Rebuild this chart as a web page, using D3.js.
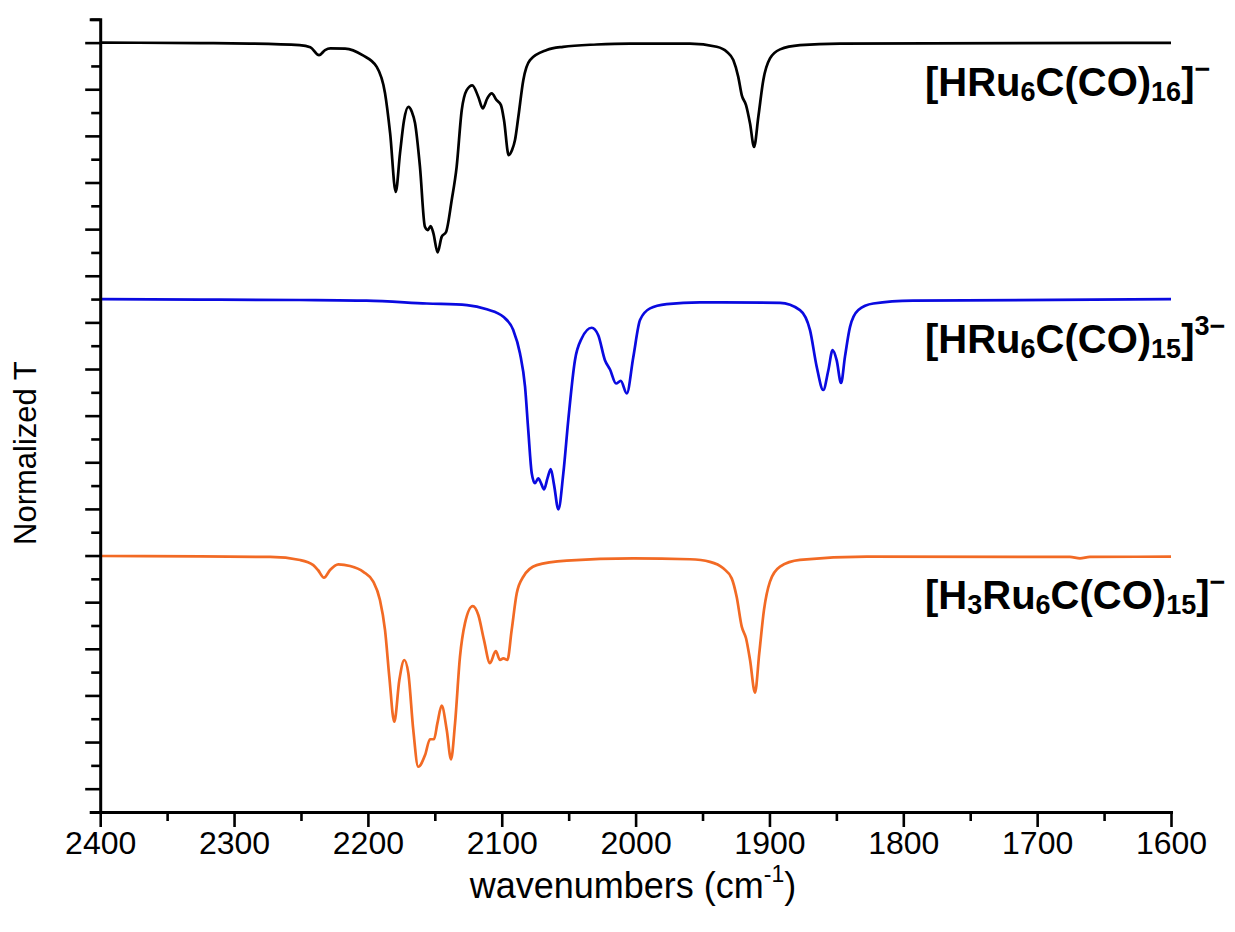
<!DOCTYPE html>
<html><head><meta charset="utf-8">
<script src="https://cdn.jsdelivr.net/npm/d3@7"></script>
<style>
body{margin:0;background:#fff}
svg{display:block}
text{font-family:"Liberation Sans",Arial,Helvetica,sans-serif}
</style>
</head><body>
<svg id="chart" width="1235" height="932"></svg>
<script>
// ---- data: [wavenumber (cm-1), normalized T (offset units)] ----
const spectrumHRu6C_CO16 = [
 [2400,33.00],[2325,32.98],[2288,32.96],[2251,32.89],[2243,32.80],[2236.5,32.46],[2232,32.68],
 [2228,32.75],[2217,32.74],[2204,32.46],[2193.4,31.96],[2187.2,30.83],[2183.4,29.12],[2179.2,26.60],
 [2176,28.26],[2173,29.67],[2169.8,30.24],[2167.1,30.02],[2164.8,29.55],[2161.1,27.67],[2157.4,25.10],
 [2155.3,24.96],[2153.1,25.13],[2151.1,24.83],[2147.9,24.00],[2144.9,24.67],[2141.6,24.88],[2137.4,26.24],
 [2133.7,27.67],[2129.9,30.10],[2126.2,30.96],[2122,31.17],[2117.5,30.67],[2114.2,30.18],[2110.8,30.61],
 [2107.5,30.82],[2103.8,30.53],[2100.6,30.32],[2098.3,29.67],[2094.8,28.17],[2092.3,28.39],[2090.1,28.82],
 [2087.6,29.82],[2083.9,31.39],[2078.9,32.25],[2066.4,32.68],[2054.2,32.82],[2029.1,32.92],[2004.2,32.96],
 [1959.4,32.96],[1939.4,32.82],[1931.9,32.61],[1927,32.25],[1923.3,31.53],[1920.7,30.75],[1917.5,30.32],
 [1914.5,29.53],[1911.5,28.53],[1908.3,29.82],[1904.6,31.39],[1899.6,32.32],[1892.1,32.71],[1877.2,32.89],
 [1847.3,32.96],[1600,32.99]
];
const spectrumHRu6C_CO15 = [
 [2400,22.00],[2325,21.98],[2251,21.96],[2201,21.93],[2156,21.81],[2126,21.74],[2111.2,21.56],
 [2098.8,21.24],[2091.4,20.67],[2086.4,19.68],[2082.6,18.24],[2080.2,16.38],[2077.6,14.53],[2075.2,14.10],
 [2072.7,14.31],[2070.7,14.11],[2068.4,13.84],[2065.8,14.32],[2063.4,14.71],[2060.9,14.02],[2057.7,12.98],
 [2054,14.52],[2050.3,16.81],[2045.3,19.38],[2040.3,20.31],[2032.8,20.77],[2027.9,20.45],[2022.9,19.38],
 [2019.1,18.98],[2014.6,18.38],[2011.1,18.49],[2006.6,17.95],[2001.7,19.52],[1996.7,21.10],[1989.2,21.60],
 [1976.8,21.78],[1951.9,21.86],[1892.1,21.84],[1877.2,21.53],[1869.7,20.67],[1864.7,19.10],[1859.8,18.10],
 [1856,18.95],[1852.8,19.81],[1849.8,19.38],[1846.5,18.40],[1843.6,19.52],[1839.8,20.81],[1833.6,21.53],
 [1822.4,21.81],[1792.8,21.93],[1600,22.00]
];
const spectrumH3Ru6C_CO15 = [
 [2400,10.98],[2325,10.96],[2273,10.94],[2250.7,10.81],[2240.8,10.59],[2237.3,10.38],[2232.8,10.05],
 [2228.3,10.38],[2222.1,10.62],[2213.4,10.55],[2203.4,10.30],[2196,9.88],[2191,9.09],[2187.2,7.80],
 [2184,5.80],[2180.3,3.87],[2176.5,5.66],[2172.8,6.52],[2169.8,5.95],[2166.1,3.52],[2162.4,1.94],
 [2157.3,2.44],[2153.6,3.12],[2150.6,3.12],[2148.1,3.80],[2144.9,4.56],[2141.1,3.52],[2137.9,2.26],
 [2134.9,3.80],[2131.2,6.66],[2127.5,8.09],[2121.7,8.83],[2117.5,8.45],[2113.3,7.38],[2108.8,6.38],
 [2104.5,6.90],[2101.3,6.52],[2098.8,6.59],[2095.8,6.52],[2092.6,7.80],[2088.8,9.38],[2083.9,10.09],
 [2073.9,10.59],[2051.5,10.78],[2001.7,10.88],[1959.4,10.84],[1944.4,10.73],[1934.5,10.45],[1928.2,10.02],
 [1924.5,9.23],[1920.7,7.95],[1917.5,7.45],[1914.5,6.52],[1910.8,5.12],[1907.6,6.81],[1904.1,8.66],
 [1899.6,9.88],[1892.1,10.52],[1877.2,10.81],[1827.3,10.95],[1675.5,10.94],[1668,10.88],[1660.6,10.94],
 [1600,10.95]
];
const seriesColors = ["#000000","#0a0ae0","#f26a24"];
const xMajorTicks = [2400,2300,2200,2100,2000,1900,1800,1700,1600];
const xMinorTicks = [2350,2250,2150,2050,1950,1850,1750,1650];
const yTicks = d3.range(0,35,1);
// label parts: [text, kind] kind: n=normal, b=sub, p=super
const label1 = [["[HRu","n"],["6","b"],["C(CO)","n"],["16","b"],["]","n"],["\u2212","p"]];
const label2 = [["[HRu","n"],["6","b"],["C(CO)","n"],["15","b"],["]","n"],["3\u2212","p"]];
const label3 = [["[H","n"],["3","b"],["Ru","n"],["6","b"],["C(CO)","n"],["15","b"],["]","n"],["\u2212","p"]];
const labelBaselineT = [30.7, 19.7, 8.7];

// ---- drawing ----
const svg = d3.select("#chart");
const x = d3.scaleLinear().domain([2400,1600]).range([100.2,1171]);
const y = d3.scaleLinear().domain([0,34]).range([812,19.3]);

const line = d3.line().x(d=>x(d[0])).y(d=>y(d[1])).curve(d3.curveMonotoneX);
[spectrumHRu6C_CO16, spectrumHRu6C_CO15, spectrumH3Ru6C_CO15].forEach((s,i)=>{
  svg.append("path").datum(s).attr("d",line).attr("fill","none")
    .attr("stroke",seriesColors[i]).attr("stroke-width",2.7).attr("stroke-linejoin","round");
});

// x axis
const gx = svg.append("g").attr("transform","translate(0,812)");
gx.call(d3.axisBottom(x).tickValues(xMajorTicks).tickSize(15).tickSizeOuter(0).tickPadding(4).tickFormat(d3.format("d")));
const gxm = svg.append("g").attr("transform","translate(0,812)");
gxm.call(d3.axisBottom(x).tickValues(xMinorTicks).tickSize(9).tickSizeOuter(0).tickFormat(""));
gxm.select(".domain").remove();
// y axis
const gy = svg.append("g").attr("transform","translate(100.2,0)");
gy.call(d3.axisLeft(y).tickValues(yTicks).tickSizeOuter(0).tickFormat("").tickSize(9));
gy.selectAll(".tick line").attr("x2", d => d%2===1 ? -15 : -9);

svg.selectAll(".domain").attr("stroke","#000").attr("stroke-width",3).attr("stroke-linecap","square");
svg.selectAll(".tick line").attr("stroke","#000").attr("stroke-width",2.6);
gx.selectAll(".tick text").attr("font-size",32).attr("fill","#000");

// axis titles
const xt = svg.append("text").attr("x",633).attr("y",898).attr("text-anchor","middle")
  .attr("font-size",36).attr("fill","#000");
xt.append("tspan").text("wavenumbers (cm");
xt.append("tspan").text("-1").attr("font-size",23).attr("dy",-16);
xt.append("tspan").text(")").attr("dy",16);

svg.append("text").attr("transform","translate(36,545) rotate(-90)")
  .attr("font-size",31).attr("fill","#000").text("Normalized T");

// series labels
[label1,label2,label3].forEach((parts,i)=>{
  const t = svg.append("text").attr("x",925).attr("y",y(labelBaselineT[i]))
    .attr("font-size",40).attr("font-weight","bold").attr("fill","#000");
  let shift = 0;
  parts.forEach(([s,k])=>{
    const target = k==="b" ? 5 : (k==="p" ? -18 : 0);
    t.append("tspan").text(s).attr("font-size", k==="n" ? 40 : 27).attr("dy", target-shift);
    shift = target;
  });
});
</script>
</body></html>
